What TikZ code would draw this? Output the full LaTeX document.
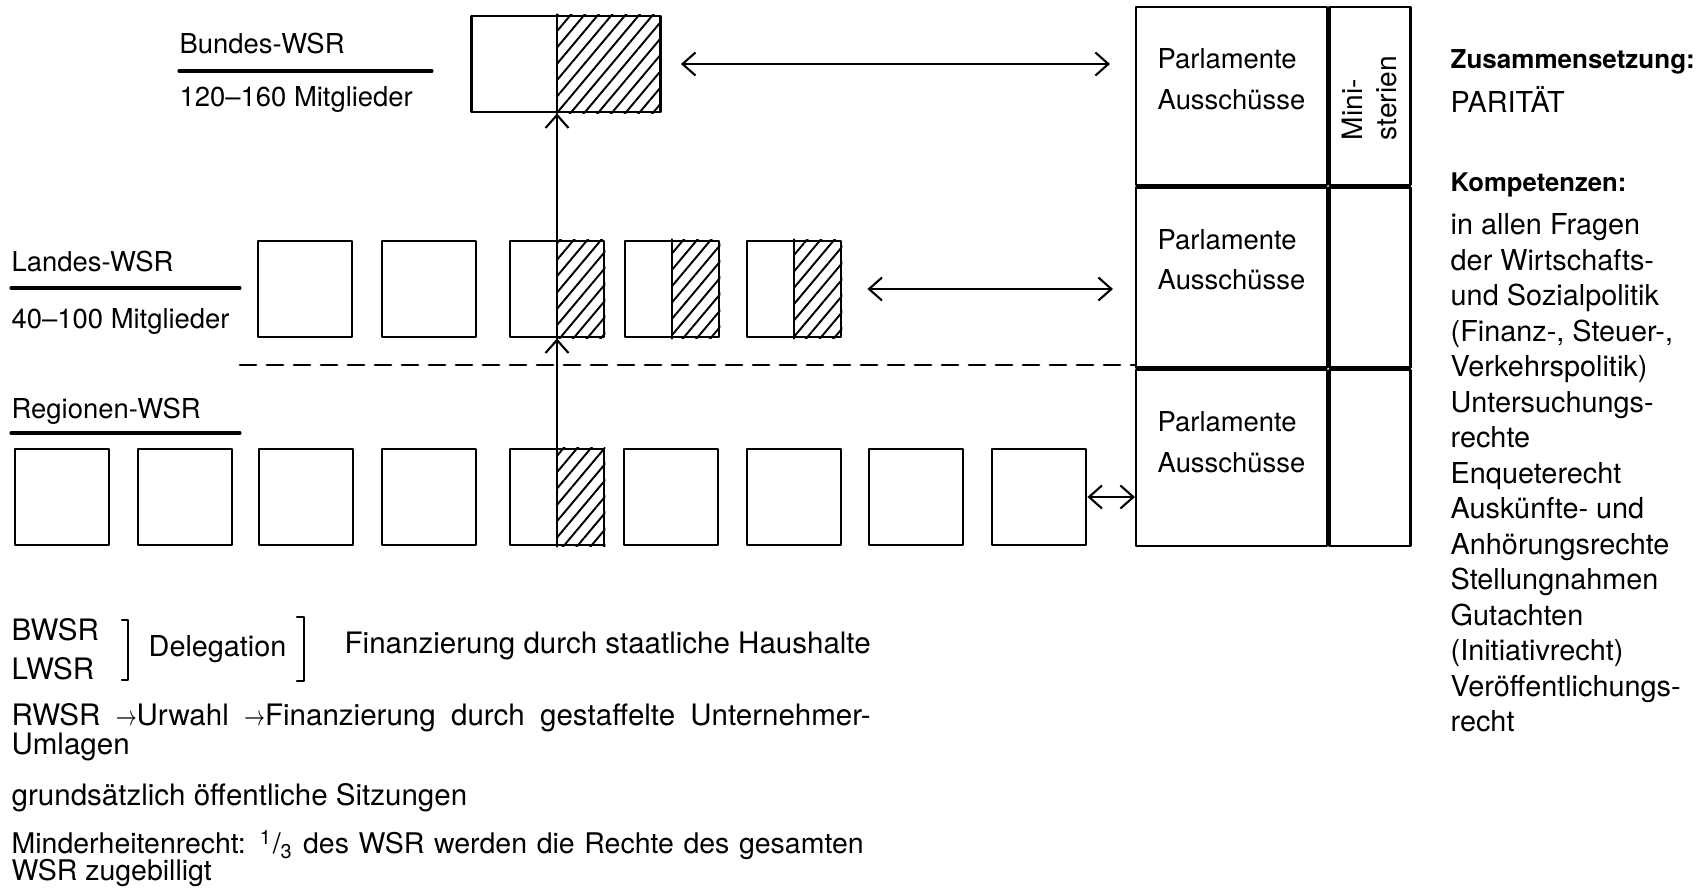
\documentclass[tikz,border=0pt]{standalone}
\usepackage{fontspec}
\usepackage{graphicx}
\setmainfont{TeX Gyre Heros}
\usetikzlibrary{patterns.meta,arrows.meta,positioning}

\newcommand\sarrow{\scalebox{0.7}[1]{$\rightarrow$}}

\tikzset{
  wsr/.style={draw, line width=0.8pt, minimum width=9.4mm, minimum height=9.6mm, inner sep=0pt},
  wsrline/.style={line width=0.8pt},
  hatch/.style={pattern={Lines[angle=50,distance=1.05mm,line width=0.55pt]}},
  headrule/.style={line width=0.9pt},
  cell/.style={draw, line width=0.7pt, anchor=north west, inner sep=0pt},
  lbl/.style={anchor=west, inner sep=0pt, font=\fontsize{7.8}{10}\selectfont},
  btxt/.style={anchor=west, inner sep=0pt, font=\fontsize{8.4}{10}\selectfont},
  ptext/.style={anchor=north west, inner sep=0pt, align=left, font=\fontsize{7.8}{11.6}\selectfont},
  link/.style={line width=0.6pt},
  brk/.style={line width=0.7pt},
  dashline/.style={line width=0.8pt, dash pattern=on 1.6mm off 1.1mm},
}

\begin{document}
\begin{tikzpicture}[x=0.1mm, y=-0.1mm, >={Straight Barb[length=1.3mm,width=2.3mm]}, line join=round, line cap=round]
\useasboundingbox (0,0) rectangle (1698,891);

% Bundes-WSR
\node[lbl] (bname) at (179,44) {Bundes-WSR};
\draw[headrule] (179,71) -- (432,71);
\node[lbl] (bnum) at (179,99) {120–160 Mitglieder};
\node[wsr, minimum width=18.9mm] (bund) at (566,64) {};

% Landes-WSR
\node[lbl] (lname) at (11,262) {Landes-WSR};
\draw[headrule] (11,288) -- (240,288);
\node[lbl] (lnum) at (11,321) {40–100 Mitglieder};
\foreach \i/\x in {1/305,2/429,3/557,4/672,5/794}
  \node[wsr] (l\i) at (\x,289) {};

% Regionen-WSR
\node[lbl] (rname) at (11,411) {Regionen-WSR};
\draw[headrule] (11,433) -- (240,433);
\foreach \i/\x in {1/62,2/185,3/306,4/429,5/557,6/671,7/794,8/916,9/1039}
  \node[wsr] (r\i) at (\x,497) {};

% Schraffur
\fill[hatch] (l3.north |- bund.north) rectangle (bund.south east);
\draw[wsrline] (l3.north |- bund.north) -- (l3.north |- bund.south);
\foreach \n in {l3,l4,l5,r5} {
  \fill[hatch] (\n.north) rectangle (\n.south east);
  \draw[wsrline] (\n.north) -- (\n.south);
}

% Parlamente / Ministerien
\node[cell, minimum width=19.1mm, minimum height=17.8mm] (p1) at (1135,6) {};
\node[cell, minimum width=19.1mm, minimum height=18.0mm] (p2) at (p1.south west) {};
\node[cell, minimum width=19.1mm, minimum height=17.6mm] (p3) at (p2.south west) {};
\node[cell, minimum width=8.1mm, minimum height=17.8mm] (m1) at (p1.north east) {};
\node[cell, minimum width=8.1mm, minimum height=18.0mm] (m2) at (p2.north east) {};
\node[cell, minimum width=8.1mm, minimum height=17.6mm] (m3) at (p3.north east) {};
\foreach \n in {1,2,3}
  \node[ptext] (t\n) at ([shift={(22,42)}]p\n.north west) {Parlamente\\Ausschüsse};
\node[ptext, anchor=center, rotate=90, font=\fontsize{8}{9.7}\selectfont] (mini) at ([shift={(-1,2)}]m1.center) {Mini-\\sterien};

% Verbindungen
\draw[link, <->, shorten <=1.9mm, shorten >=2.5mm] (bund.east) -- (bund.east -| p1.west);
\draw[link, <->, shorten <=2.5mm, shorten >=2.2mm] (l5.east) -- (l5.east -| p2.west);
\draw[link, <->] (r9.east) -- (r9.east -| p3.west);
\draw[link, ->] (l3.north) -- (l3.north |- bund.south);
\draw[link, ->] (r5.north) -- (l3.south);
\coordinate (dashL) at (240,365);
\draw[dashline] (dashL) -- (dashL -| p3.west);

% Zusammensetzung und Kompetenzen
\node[lbl, font=\fontsize{7.4}{10}\selectfont\bfseries] (zus) at (1450,62) {Zusammensetzung:};
\node[lbl, font=\fontsize{8.2}{10}\selectfont] (par) at (1450,100) {PARITÄT};
\node[lbl, font=\fontsize{7.3}{10}\selectfont\bfseries] (komp) at (1450,185) {Kompetenzen:};
\node[ptext, font=\fontsize{8.2}{10.1}\selectfont] (kompl) at (1450,213) {in allen Fragen\\der Wirtschafts-\\und Sozialpolitik\\(Finanz-, Steuer-,\\Verkehrspolitik)\\Untersuchungs-\\rechte\\Enqueterecht\\Auskünfte- und\\Anhörungsrechte\\Stellungnahmen\\Gutachten\\(Initiativrecht)\\Veröffentlichungs-\\recht};

% Finanzierung usw.
\node[btxt] (bw) at (11,630) {BWSR};
\node[btxt] (lw) at (11,669) {LWSR};
\draw[brk] (122,620) -- (128,620) -- (128,680) -- (122,680);
\node[btxt, font=\fontsize{8.2}{10}\selectfont] (del) at (148,649) {Delegation};
\draw[brk] (297,617) -- (304,617) -- (304,681) -- (297,681);
\node[btxt] (fin) at (344,646) {Finanzierung durch staatliche Haushalte};
\node[btxt] (rw) at (11,718) {\makebox[85.9mm][s]{RWSR \sarrow Urwahl \sarrow Finanzierung durch gestaffelte Unternehmer-}};
\node[btxt] (uml) at (11,747) {Umlagen};
\node[btxt] (sitz) at (11,798) {grundsätzlich öffentliche Sitzungen};
\node[btxt, font=\fontsize{8.1}{10}\selectfont] (mind) at (11,845) {\makebox[85.2mm][s]{Minderheitenrecht: \textsuperscript{1}/\textsubscript{3} des WSR werden die Rechte des gesamten}};
\node[btxt, font=\fontsize{8.1}{10}\selectfont] (zug) at (11,873) {WSR zugebilligt};
\end{tikzpicture}
\end{document}
